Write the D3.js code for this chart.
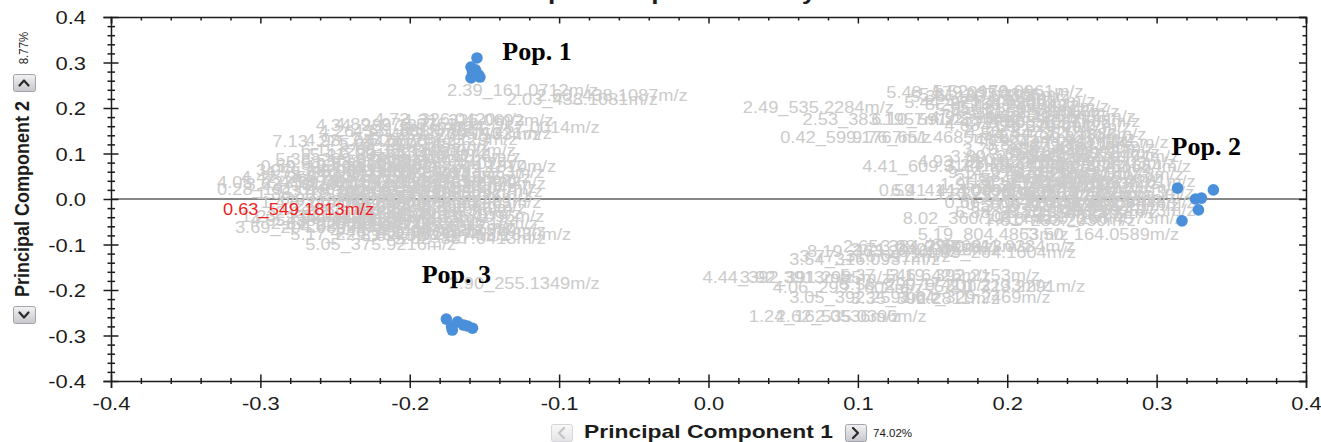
<!DOCTYPE html>
<html>
<head>
<meta charset="utf-8">
<script src="https://cdn.jsdelivr.net/npm/d3@7"></script>
<style>
  body { margin: 0; background: #fff; }
  svg { display: block; font-family: "Liberation Sans", Arial, sans-serif; }
</style>
</head>
<body>
<svg id="chart" width="1321" height="442"></svg>
<script>
// ---- data -------------------------------------------------------------
const pc1Ticks = [-0.4, -0.3, -0.2, -0.1, 0.0, 0.1, 0.2, 0.3, 0.4];
const pc2Ticks = [-0.4, -0.3, -0.2, -0.1, 0.0, 0.1, 0.2, 0.3, 0.4];
const pc1Title = "Principal Component 1";
const pc2Title = "Principal Component 2";
const pc1Explained = "74.02%";
const pc2Explained = "8.77%";
const chartTitle = "Principal Component Analysis";

// sample scores [PC1, PC2]
const pop1 = [[-0.155, 0.310], [-0.159, 0.290], [-0.158, 0.279], [-0.154, 0.273],
              [-0.159, 0.266], [-0.153, 0.268], [-0.156, 0.284]];
const pop2 = [[0.314, 0.024], [0.338, 0.020], [0.326, 0.000], [0.330, 0.002],
              [0.328, -0.024], [0.317, -0.048]];
const pop3 = [[-0.1755, -0.264], [-0.172, -0.281], [-0.168, -0.270], [-0.164, -0.277],
              [-0.158, -0.284], [-0.1715, -0.288], [-0.1615, -0.279]];

// group annotations [text, PC1, PC2]
const groupNotes = [["Pop. 1", -0.138, 0.3055], ["Pop. 2", 0.310, 0.097], ["Pop. 3", -0.192, -0.185]];

// variable loadings [PC1, PC2, "RT_mass"]
const loadingsNeg = [
  [-0.175, 0.226, "2.39_161.0712"], [-0.135, 0.207, "2.03_438.1081"], [-0.115, 0.215, "2.60_438.1087"],
  [-0.224, 0.163, "4.72_326.0420"], [-0.205, 0.160, "4.31_326.0692"], [-0.263, 0.149, "4.34_289.1377"],
  [-0.250, 0.152, "4.89_273.0761"], [-0.174, 0.145, "4.24_257.0014"], [-0.261, 0.136, "4.26_331.0836"],
  [-0.238, 0.138, "4.65_301.0712"], [-0.213, 0.130, "4.57_279.0533"], [-0.206, 0.132, "5.12_305.1021"],
  [-0.292, 0.114, "7.13_275.0847"], [-0.247, 0.108, "5.63_217.1483"], [-0.270, 0.116, "4.98_243.0660"],
  [-0.228, 0.119, "5.27_287.1129"], [-0.290, 0.075, "5.38_289.0204"], [-0.267, 0.086, "5.41_301.2011"],
  [-0.247, 0.090, "6.02_233.1160"], [-0.226, 0.081, "5.86_312.1156"], [-0.230, 0.095, "6.33_189.0902"],
  [-0.273, 0.095, "6.15_205.1228"], [-0.236, 0.073, "5.74_247.0981"], [-0.300, 0.059, "0.59_193.0352"],
  [-0.273, 0.064, "5.92_265.0843"], [-0.253, 0.057, "4.81_221.0652"], [-0.203, 0.059, "6.71_244.1310"],
  [-0.223, 0.066, "6.48_259.1402"], [-0.283, 0.068, "5.58_331.1675"], [-0.313, 0.035, "4.42_259.0927"],
  [-0.297, 0.046, "4.59_361.0417"], [-0.280, 0.037, "3.88_287.0550"], [-0.260, 0.048, "5.03_315.0720"],
  [-0.240, 0.042, "4.17_263.1012"], [-0.220, 0.035, "5.49_219.0286"], [-0.211, 0.046, "6.22_303.1553"],
  [-0.303, 0.051, "3.97_345.0861"], [-0.225, 0.029, "4.76_289.1190"], [-0.329, 0.024, "4.05_223.0978"],
  [-0.310, 0.020, "3.62_181.0708"], [-0.287, 0.026, "4.13_307.0431"], [-0.270, 0.018, "2.88_197.0446"],
  [-0.250, 0.024, "5.15_271.0937"], [-0.230, 0.015, "4.47_333.0585"], [-0.210, 0.022, "3.76_251.0779"],
  [-0.216, 0.013, "5.31_379.1204"], [-0.329, 0.009, "0.28_191.0197"], [-0.303, 0.000, "1.86_165.0546"],
  [-0.280, 0.004, "3.41_209.0815"], [-0.260, -0.004, "2.74_235.0612"], [-0.240, 0.002, "4.92_317.1038"],
  [-0.220, -0.007, "3.18_283.0876"], [-0.212, 0.004, "5.77_341.1477"], [-0.247, -0.011, "4.63_227.0734"],
  [-0.300, -0.020, "1.47_149.0451"], [-0.277, -0.026, "2.95_213.0397"], [-0.253, -0.018, "3.53_239.0924"],
  [-0.233, -0.026, "4.28_297.0668"], [-0.213, -0.020, "5.06_359.1283"], [-0.223, -0.031, "3.84_321.0749"],
  [-0.287, -0.013, "6.09_277.1362"], [-0.313, -0.051, "1.23_133.0142"], [-0.290, -0.042, "2.16_177.0389"],
  [-0.267, -0.046, "3.27_215.0578"], [-0.247, -0.053, "4.39_253.0911"], [-0.226, -0.044, "2.51_199.0502"],
  [-0.211, -0.051, "4.84_335.1096"], [-0.236, -0.037, "5.54_285.0823"], [-0.283, -0.055, "3.93_369.1151"],
  [-0.317, -0.075, "3.69_204.0899"], [-0.293, -0.066, "2.67_229.0631"], [-0.273, -0.070, "4.02_267.0474"],
  [-0.250, -0.064, "5.22_311.0815"], [-0.230, -0.073, "3.36_243.1047"], [-0.215, -0.066, "4.71_293.0716"],
  [-0.210, -0.081, "5.68_353.1389"], [-0.307, -0.059, "4.55_389.1258"], [-0.280, -0.090, "5.17_229.1547"],
  [-0.253, -0.086, "4.46_281.0962"], [-0.233, -0.092, "3.82_327.1174"], [-0.210, -0.099, "5.62_387.0413"],
  [-0.193, -0.090, "6.04_413.1830"], [-0.270, -0.112, "5.05_375.9216"], [-0.236, -0.081, "4.97_401.1826"],
  [-0.174, -0.198, "2.90_255.1349"]
];

const loadingsPos = [
  [0.119, 0.222, "5.48_179.0950"], [0.150, 0.224, "5.52_179.0961"], [0.135, 0.214, "5.36_193.0712"],
  [0.141, 0.218, "5.61_207.0866"], [0.131, 0.200, "5.44_221.1019"], [0.145, 0.196, "5.29_163.0398"],
  [0.158, 0.204, "5.73_235.0815"], [0.168, 0.191, "5.18_249.1172"], [0.152, 0.185, "5.05_177.0554"],
  [0.162, 0.176, "4.97_263.1329"], [0.175, 0.180, "5.11_277.0603"], [0.185, 0.169, "4.83_291.1485"],
  [0.148, 0.167, "4.92_205.0341"], [0.109, 0.163, "6.10_591.2350"], [0.168, 0.156, "4.71_305.1027"],
  [0.182, 0.147, "4.66_319.0917"], [0.188, 0.158, "4.58_333.1738"], [0.158, 0.149, "4.88_219.0764"],
  [0.184, 0.123, "4.86_590.3210"], [0.172, 0.134, "4.52_347.1203"], [0.192, 0.130, "4.44_361.1386"],
  [0.096, 0.123, "9.76_651.4685"], [0.170, 0.097, "3.70_258.1436"], [0.185, 0.108, "3.82_272.1611"],
  [0.198, 0.101, "3.95_286.1290"], [0.207, 0.112, "4.07_300.1445"], [0.178, 0.116, "4.19_314.0928"],
  [0.188, 0.086, "3.61_228.0873"], [0.202, 0.090, "3.48_242.1127"], [0.214, 0.081, "3.33_256.0994"],
  [0.162, 0.081, "3.89_270.1356"], [0.175, 0.075, "4.01_284.0712"], [0.140, 0.070, "4.93_210.0207"],
  [0.103, 0.059, "4.41_609.3187"], [0.158, 0.062, "3.24_298.1189"], [0.178, 0.066, "3.12_312.1342"],
  [0.195, 0.057, "2.97_326.0876"], [0.212, 0.068, "2.85_340.1503"], [0.222, 0.059, "2.71_354.1664"],
  [0.160, 0.046, "9.14_770.4521"], [0.172, 0.037, "2.58_368.1219"], [0.188, 0.044, "2.44_382.1387"],
  [0.203, 0.035, "2.36_396.1550"], [0.218, 0.042, "2.29_410.1178"], [0.165, 0.031, "2.18_424.1745"],
  [0.155, 0.020, "1.95_438.1822"], [0.170, 0.024, "1.87_452.1469"], [0.185, 0.015, "1.76_466.2015"],
  [0.200, 0.022, "1.64_480.1933"], [0.215, 0.013, "1.52_494.2107"], [0.225, 0.026, "1.41_508.2281"],
  [0.114, 0.007, "0.59_414.1070"], [0.122, 0.007, "6.41_414.0998"], [0.152, -0.002, "1.33_522.1846"],
  [0.167, 0.002, "1.21_536.2019"], [0.182, -0.007, "1.08_550.2174"], [0.196, 0.000, "0.97_564.2338"],
  [0.212, -0.009, "0.86_578.2490"], [0.224, 0.002, "0.74_592.2653"], [0.184, -0.029, "3.06_321.1185"],
  [0.158, -0.020, "0.66_606.2817"], [0.172, -0.024, "0.55_620.2962"], [0.198, -0.018, "0.48_634.3125"],
  [0.214, -0.026, "0.37_648.3281"], [0.225, -0.020, "0.31_662.3446"], [0.200, -0.042, "8.20_227.1392"],
  [0.217, -0.055, "4.60_256.4573"], [0.165, -0.042, "6.88_241.1558"], [0.179, -0.051, "7.02_255.1716"],
  [0.225, -0.037, "7.45_269.1873"], [0.185, -0.059, "7.61_283.2030"],
  [0.023, 0.189, "2.49_535.2284"], [0.063, 0.163, "2.53_383.1957"], [0.048, 0.123, "0.42_599.1767"],
  [0.130, -0.055, "8.02_360.1918"], [0.140, -0.090, "5.19_804.4863"], [0.214, -0.090, "3.50_164.0589"],
  [0.090, -0.116, "2.65_384.0280"], [0.145, -0.116, "7.37_311.0334"], [0.066, -0.127, "8.19_363.2046"],
  [0.145, -0.130, "1.83_264.1604"], [0.095, -0.123, "2.71_349.0388"], [0.115, -0.116, "3.08_297.0913"],
  [0.054, -0.145, "3.54_316.0937"], [0.061, -0.138, "3.77_316.0912"], [-0.004, -0.185, "4.44_392.3913"],
  [0.021, -0.185, "3.92_391.2985"], [0.088, -0.180, "5.37_546.6426"], [0.121, -0.180, "3.19_392.2153"],
  [0.043, -0.207, "4.06_299.1608"], [0.088, -0.200, "5.58_299.1741"], [0.128, -0.202, "4.79_301.2133"],
  [0.151, -0.204, "5.21_329.2291"], [0.054, -0.229, "3.05_392.2591"], [0.095, -0.231, "3.35_392.2811"],
  [0.128, -0.229, "3.64_329.2469"], [0.027, -0.270, "1.24_162.0536"], [0.045, -0.270, "2.62_535.0396"]
];

// currently selected variable
const selectedLoading = [-0.325, -0.035, "0.63_549.1813"];

// ---- drawing ----------------------------------------------------------
const svg = d3.select("#chart");
const x = d3.scaleLinear().domain([-0.4, 0.4]).range([111, 1306]);
const y = d3.scaleLinear().domain([-0.4, 0.4]).range([381, 17]);
const fmt = d => d.toFixed(1);
const minorTicks = d3.range(-40, 41, 2).filter(i => i % 10 !== 0).map(i => i / 100);
const ink = "#1c1c1c";
const SX = 1.22;          // horizontal text stretch used by the plot widget
const LSX = 1.14;         // stretch for variable labels

// title (sits above the visible window, only descenders reach into it)
svg.append("text")
  .attr("transform", `translate(664,-1.5) scale(${SX},1)`)
  .attr("text-anchor", "middle").attr("font-weight", "bold").attr("font-size", 21.5)
  .attr("fill", ink).text(chartTitle);

// zero reference line
svg.append("line")
  .attr("x1", x(-0.4)).attr("x2", x(0.4)).attr("y1", y(0)).attr("y2", y(0))
  .attr("stroke", "#111").attr("stroke-width", 1);

// variable labels
svg.append("g").attr("font-size", 16).attr("fill", "#cbcbcb")
  .selectAll("text").data(loadingsNeg.concat(loadingsPos)).join("text")
  .attr("transform", d => `translate(${x(d[0])},${y(d[1])}) scale(${LSX},1)`)
  .text(d => d[2] + "m/z");

svg.append("text")
  .attr("transform", `translate(${x(selectedLoading[0])},${y(selectedLoading[1])}) scale(${LSX},1)`)
  .attr("font-size", 16).attr("fill", "#f01e1e")
  .text(selectedLoading[2] + "m/z");

// axes
function styleAxis(g) {
  g.attr("color", ink).attr("font-size", 18)
   .attr("font-family", '"Liberation Sans", Arial, sans-serif');
  g.selectAll("line, path").attr("stroke-width", 1.5);
}

const gB = svg.append("g").attr("transform", `translate(0,${y(-0.4)})`);
gB.call(d3.axisBottom(x).tickValues(pc1Ticks).tickSizeOuter(0).tickSize(7).tickFormat(fmt));
gB.selectAll(".tick line").attr("y1", -6.5).attr("y2", 7);
gB.selectAll(".tick text").attr("y", 29).attr("dy", 0).attr("transform", `scale(${SX},1)`);
gB.append("g").call(d3.axisBottom(x).tickValues(minorTicks).tickSize(3).tickFormat(""))
  .call(g => g.select(".domain").remove())
  .selectAll(".tick line").attr("y1", -3);
styleAxis(gB);

const gL = svg.append("g").attr("transform", `translate(${x(-0.4)},0)`);
gL.call(d3.axisLeft(y).tickValues(pc2Ticks).tickSizeOuter(0).tickSize(7.5).tickFormat(fmt));
gL.selectAll(".tick line").attr("x1", -7.5).attr("x2", 7.5);
gL.selectAll(".tick text").attr("x", -25 / SX).attr("y", 6.5).attr("dy", 0)
  .attr("transform", `scale(${SX},1)`);
gL.append("g").call(d3.axisLeft(y).tickValues(minorTicks).tickSize(3.5).tickFormat(""))
  .call(g => g.select(".domain").remove())
  .selectAll(".tick line").attr("x1", -3.5).attr("x2", 4);
styleAxis(gL);

const gT = svg.append("g").attr("transform", `translate(0,${y(0.4)})`);
gT.call(d3.axisTop(x).tickValues(pc1Ticks).tickSizeOuter(0).tickSize(-6.5).tickFormat(""));
gT.append("g").call(d3.axisTop(x).tickValues(minorTicks).tickSize(-3.5).tickFormat(""))
  .call(g => g.select(".domain").remove());
styleAxis(gT);

const gR = svg.append("g").attr("transform", `translate(${x(0.4)},0)`);
gR.call(d3.axisRight(y).tickValues(pc2Ticks).tickSizeOuter(0).tickSize(-7).tickFormat(""));
gR.append("g").call(d3.axisRight(y).tickValues(minorTicks).tickSize(-3.5).tickFormat(""))
  .call(g => g.select(".domain").remove());
styleAxis(gR);

// sample scores
const scoreColor = "#4a8fd9";
svg.append("g").attr("fill", scoreColor)
  .selectAll("circle").data(pop1.concat(pop2, pop3)).join("circle")
  .attr("cx", d => x(d[0])).attr("cy", d => y(d[1])).attr("r", 5.8);

// group annotations
svg.append("g")
  .attr("font-family", '"Liberation Serif", "Times New Roman", serif')
  .attr("font-weight", "bold").attr("font-size", 26).attr("fill", "#000")
  .selectAll("text").data(groupNotes).join("text")
  .attr("x", d => x(d[1])).attr("y", d => y(d[2])).text(d => d[0]);

// axis titles
svg.append("text")
  .attr("transform", `translate(${(x(-0.4) + x(0.4)) / 2},438) scale(1.27,1)`)
  .attr("text-anchor", "middle").attr("font-weight", "bold").attr("font-size", 18)
  .attr("fill", ink).text(pc1Title);
svg.append("text")
  .attr("transform", `translate(873,437) scale(1.05,1)`)
  .attr("font-size", 11).attr("fill", ink).text(pc1Explained);

svg.append("text")
  .attr("transform", `translate(29,${(y(-0.4) + y(0.4)) / 2}) scale(1.1,1) rotate(-90)`)
  .attr("text-anchor", "middle").attr("font-weight", "bold").attr("font-size", 18)
  .attr("fill", ink).text(pc2Title);
svg.append("text")
  .attr("transform", `translate(28,48) scale(1.1,1) rotate(-90)`)
  .attr("text-anchor", "middle").attr("font-size", 11.5)
  .attr("fill", ink).text(pc2Explained);

// component stepper buttons
const defs = svg.append("defs");
const grad = defs.append("linearGradient").attr("id", "btn").attr("x1", 0).attr("y1", 0).attr("x2", 0).attr("y2", 1);
grad.append("stop").attr("offset", "0%").attr("stop-color", "#f2f2f4");
grad.append("stop").attr("offset", "100%").attr("stop-color", "#c6c6cc");
const gradOff = defs.append("linearGradient").attr("id", "btnOff").attr("x1", 0).attr("y1", 0).attr("x2", 0).attr("y2", 1);
gradOff.append("stop").attr("offset", "0%").attr("stop-color", "#f8f8f8");
gradOff.append("stop").attr("offset", "100%").attr("stop-color", "#e4e4e6");

function button(bx, by, w, h, chevron, enabled) {
  const g = svg.append("g");
  g.append("rect").attr("x", bx + 0.5).attr("y", by + 0.5).attr("width", w).attr("height", h).attr("rx", 2)
    .attr("fill", enabled ? "url(#btn)" : "url(#btnOff)")
    .attr("stroke", enabled ? "#a4a4ac" : "#d6d6da");
  g.append("path").attr("d", chevron).attr("fill", "none")
    .attr("stroke", enabled ? "#2a2a2a" : "#c4c4c8").attr("stroke-width", 2.2)
    .attr("stroke-linecap", "round").attr("stroke-linejoin", "round");
}
button(13, 74, 22, 17, "M19.5,85.5 L24,80.5 L28.5,85.5", true);
button(13, 306, 22, 17, "M19.5,312.5 L24,317.5 L28.5,312.5", true);
button(551, 424, 21, 17, "M564,428 L559,433 L564,438", false);
button(845, 424, 21, 17, "M853,428 L858,433 L853,438", true);
</script>
</body>
</html>
